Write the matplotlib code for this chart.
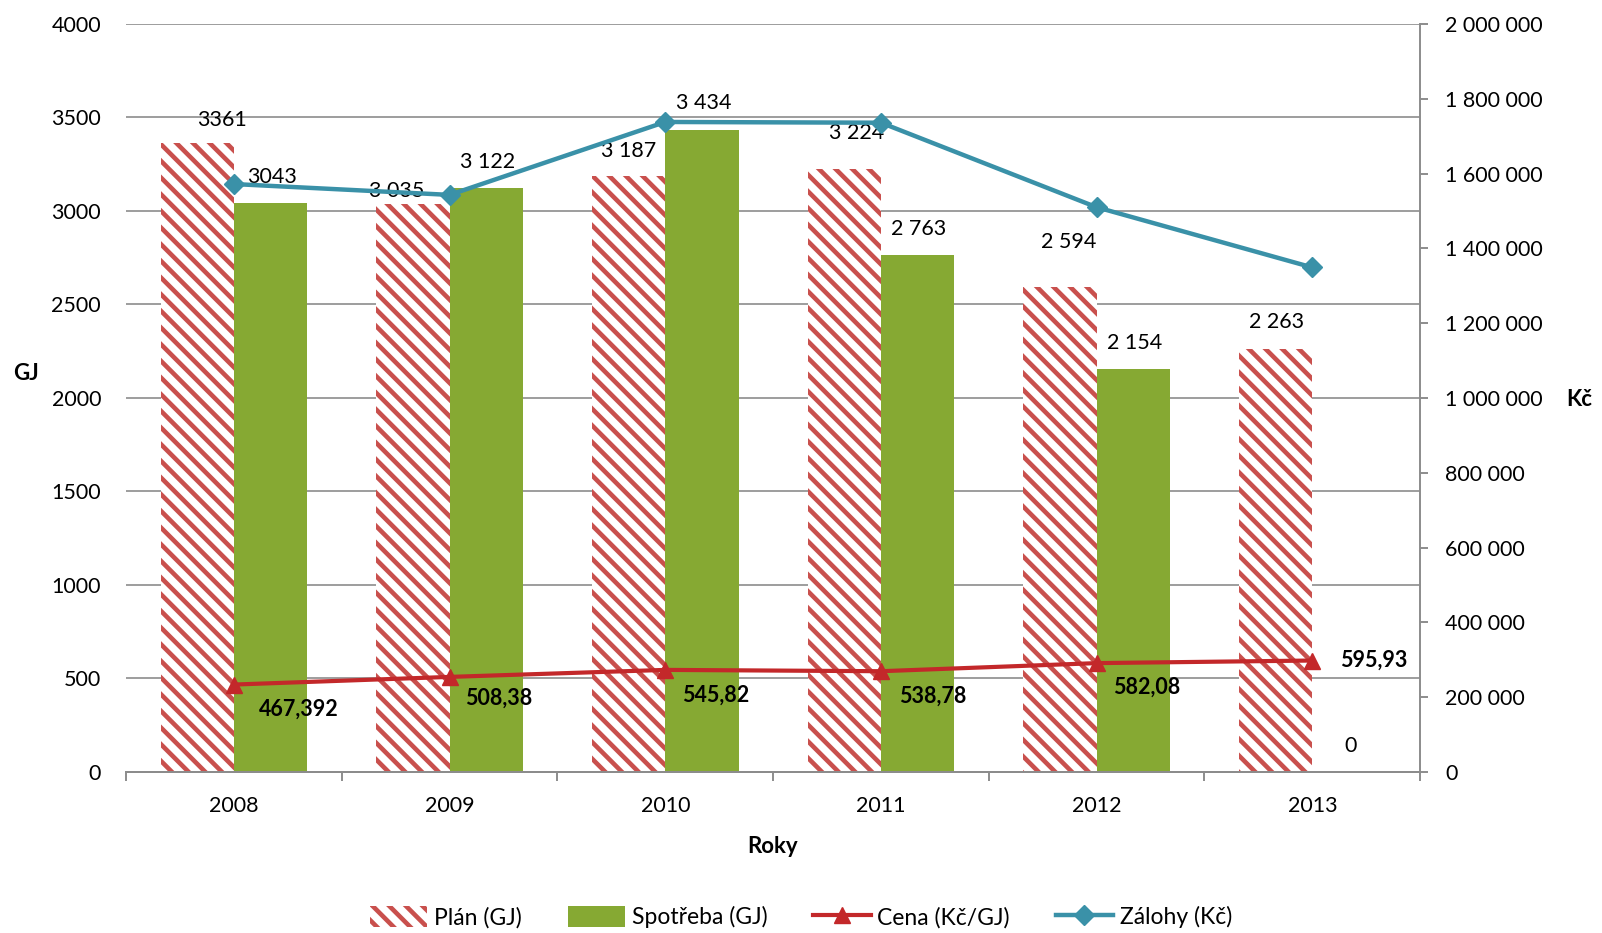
import numpy as np
import matplotlib
matplotlib.use('Agg')
import matplotlib.pyplot as plt
from matplotlib.patches import Patch
from matplotlib.lines import Line2D

plt.rcParams['font.family'] = ['Lato', 'DejaVu Sans']
plt.rcParams['hatch.linewidth'] = 3.3

# data
roky = ['2008', '2009', '2010', '2011', '2012', '2013']
plan = [3361, 3035, 3187, 3224, 2594, 2263]
spotreba = [3043, 3122, 3434, 2763, 2154, 0]
cena = [467.392, 508.38, 545.82, 538.78, 582.08, 595.93]
zalohy = [1572000, 1543000, 1738000, 1736000, 1510000, 1349000]

# barvy
c_plan = '#C9504D'
c_spot = '#86A933'
c_cena = '#C3282A'
c_zal = '#3A91A8'
c_grid = '#8C8C8C'

def fmt(v, first=False):
    s = '{:,.0f}'.format(v)
    return s.replace(',', '' if first else ' ')

x = np.arange(len(roky))
w = 0.34
srafa = '\\\\'

fig = plt.figure(figsize=(16.02, 9.33), dpi=100)
ax = fig.add_axes([0.0787, 0.1726, 0.8078, 0.8017])
ax2 = ax.twinx()

ax.bar(x - w / 2, plan, w, color='white', edgecolor=c_plan, hatch=srafa, linewidth=0, zorder=2)
ax.bar(x + w / 2, spotreba, w, color=c_spot, linewidth=0, zorder=2)
ax.plot(x, cena, color=c_cena, lw=3, marker='^', markersize=12, zorder=4)
ax2.plot(x, zalohy, color=c_zal, lw=3.2, marker='D', markersize=10, zorder=4)

ax.set_xlim(-0.5, len(roky) - 0.5)
ax.set_ylim(0, 4000)
ax2.set_ylim(0, 2000000)
ax.set_yticks(np.arange(0, 4001, 500))
ax2.set_yticks(np.arange(0, 2000001, 200000))
ax2.set_yticklabels([fmt(v) for v in np.arange(0, 2000001, 200000)])

ax.yaxis.grid(True, color=c_grid, lw=1.2)
ax.set_axisbelow(True)

for a in (ax, ax2):
    for s in ('left', 'top'):
        a.spines[s].set_visible(False)
    a.spines['bottom'].set_color(c_grid)
    a.spines['right'].set_color(c_grid)
    a.spines['bottom'].set_linewidth(1.4)
    a.spines['right'].set_linewidth(1.4)
ax.spines['right'].set_visible(False)

ax.tick_params(axis='y', length=0, pad=18, labelsize=15.5)
ax2.tick_params(axis='y', length=6, width=1.4, color=c_grid, pad=12, labelsize=15.5)
ax.set_xticks(x)
ax.set_xticklabels(roky)
ax.set_xticks(np.arange(-0.5, len(roky), 1), minor=True)
ax.tick_params(axis='x', which='major', length=0, pad=17, labelsize=15.5)
ax.tick_params(axis='x', which='minor', length=6.5, width=1.4, color=c_grid)

# popisky
plan_off = [(18, 17), (-12, 10), (0, 18), (9, 26), (6, 32), (1, 19)]
for i, v in enumerate(plan):
    ax.annotate(fmt(v, i == 0), (x[i] - w / 2, v), xytext=plan_off[i], textcoords='offset points',
                ha='center', va='center', fontsize=15.5, zorder=6)
for i, v in enumerate(spotreba):
    ax.annotate(fmt(v, i == 0), (x[i] + w / 2, v), xytext=(1, 19), textcoords='offset points',
                ha='center', va='center', fontsize=15.5, zorder=6)
cena_off = [(18, -18), (11, -15), (12, -18), (13, -18), (12, -17), (20, 0)]
for i, v in enumerate(cena):
    ax.annotate(str(v).replace('.', ','), (x[i], v), xytext=cena_off[i], textcoords='offset points',
                ha='left', va='center', fontsize=15.5, fontweight='bold', zorder=6)

fig.text(0.008, 0.600, 'GJ', fontsize=16, fontweight='bold', ha='left', va='center')
fig.text(0.986, 0.572, 'Kč', fontsize=16, fontweight='bold', ha='center', va='center')
fig.text(0.4825, 0.093, 'Roky', fontsize=16, fontweight='bold', ha='center', va='center')

handles = [
    Patch(facecolor='white', edgecolor=c_plan, hatch=srafa, linewidth=0, label='Plán (GJ)'),
    Patch(facecolor=c_spot, linewidth=0, label='Spotřeba (GJ)'),
    Line2D([], [], color=c_cena, lw=3, marker='^', markersize=12, label='Cena (Kč/GJ)'),
    Line2D([], [], color=c_zal, lw=3.2, marker='D', markersize=10, label='Zálohy (Kč)'),
]
fig.legend(handles=handles, loc='center', bbox_to_anchor=(0.5, 0.017), ncol=4, frameon=False,
           fontsize=16.5, handlelength=2.5, handleheight=1.0, handletextpad=0.3, columnspacing=2.0)

fig.savefig('out.png', dpi=100)
